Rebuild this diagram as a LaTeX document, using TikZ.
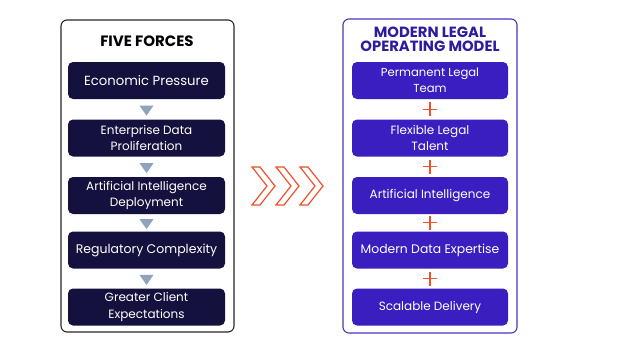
\documentclass[tikz,border=0pt]{standalone}
\usepackage{fontspec}
\setmainfont{Poppins}
\usetikzlibrary{shapes.geometric}
\definecolor{navy}{HTML}{15113E}
\definecolor{indig}{HTML}{3A1EBF}
\definecolor{ttl}{HTML}{2E1C9E}
\definecolor{rborder}{HTML}{4A35C0}
\definecolor{tri}{HTML}{8FA3BD}
\definecolor{orng}{HTML}{F0502A}
\begin{document}
\begin{tikzpicture}[x=1pt,y=-1pt,
  outerL/.style={draw=black!85,line width=1.1pt,rounded corners=6pt,fill=white},
  outerR/.style={draw=rborder,line width=1.1pt,rounded corners=6pt,fill=white},
  lbox/.style={fill=navy,rounded corners=5pt,minimum width=157pt,minimum height=37pt,text=white,align=center,font=\fontsize{12}{16.5}\selectfont,inner sep=0pt},
  rbox/.style={fill=indig,rounded corners=5pt,minimum width=156pt,minimum height=37pt,text=white,align=center,font=\fontsize{12}{16.5}\selectfont,inner sep=0pt},
  downtri/.style={fill=tri,isosceles triangle,isosceles triangle apex angle=70,shape border rotate=270,minimum width=14pt,minimum height=10pt,inner sep=0pt},
  plusmark/.style={minimum size=14pt,inner sep=0pt,path picture={\draw[orng,line width=1.4pt] (path picture bounding box.west)--(path picture bounding box.east) (path picture bounding box.north)--(path picture bounding box.south);}},
  chev/.style={draw=orng,line width=1.2pt,line join=miter}
]
\useasboundingbox (0,0) rectangle (624,351);
\fill[white] (0,0) rectangle (624,351);
% outer frames
\draw[outerL] (61,20) rectangle (234,332);
\draw[outerR] (343,19) rectangle (517,333);
% titles
\node[font=\fontsize{15}{15}\selectfont\bfseries] (tl) at (147,41.5) {FIVE FORCES};
\node[font=\fontsize{14.8}{14.3}\selectfont\bfseries,text=ttl,align=center] (tr) at (430,39.5) {MODERN LEGAL\\OPERATING MODEL};
% left boxes
\node[lbox,font=\fontsize{13.2}{16}\selectfont] (l1) at (146.5,80.5) {Economic Pressure};
\node[lbox] (l2) at (146.5,138) {Enterprise Data\\Proliferation};
\node[lbox] (l3) at (146.5,195.5) {Artificial Intelligence\\Deployment};
\node[lbox,font=\fontsize{12.5}{16}\selectfont] (l4) at (146.5,250) {Regulatory Complexity};
\node[lbox] (l5) at (146.5,307) {Greater Client\\Expectations};
% right boxes
\node[rbox,font=\fontsize{11.6}{16.5}\selectfont] (r1) at (430,80.5) {Permanent Legal\\Team};
\node[rbox] (r2) at (430,138) {Flexible Legal\\Talent};
\node[rbox] (r3) at (430,195.5) {Artificial Intelligence};
\node[rbox,font=\fontsize{12.4}{16}\selectfont] (r4) at (430,250) {Modern Data Expertise};
\node[rbox] (r5) at (430,307) {Scalable Delivery};
% triangles
\path (l1.south) -- (l2.north) node[midway,downtri] (t1) {};
\path (l2.south) -- (l3.north) node[midway,downtri] (t2) {};
\path (l3.south) -- (l4.north) node[midway,downtri] (t3) {};
\path (l4.south) -- (l5.north) node[midway,downtri] (t4) {};
% plus signs
\path (r1.south) -- (r2.north) node[midway,plusmark] (p1) {};
\path (r2.south) -- (r3.north) node[midway,plusmark] (p2) {};
\path (r3.south) -- (r4.north) node[midway,plusmark] (p3) {};
\path (r4.south) -- (r5.north) node[midway,plusmark] (p4) {};
% chevrons
\foreach \x in {252,276,300}{
  \draw[chev] (\x,167) -- ++(8,0) -- ++(15,19) -- ++(-15,19) -- ++(-8,0) -- ++(15,-19) -- cycle;
}
\end{tikzpicture}
\end{document}
